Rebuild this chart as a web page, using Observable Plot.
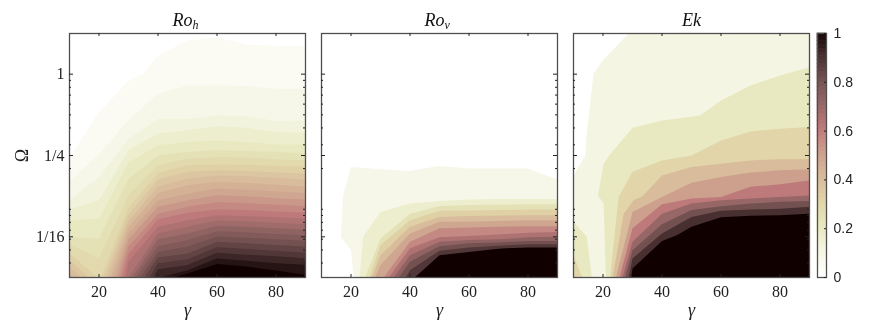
<!DOCTYPE html>
<html><head><meta charset="utf-8">
<script src="https://cdn.jsdelivr.net/npm/d3@7"></script>
<script src="https://cdn.jsdelivr.net/npm/@observablehq/plot@0.6"></script>
<style>
html,body{margin:0;padding:0;background:#fff}
#wrap{position:relative;width:872px;height:327px;overflow:hidden}
#wrap svg{position:absolute;top:0;overflow:visible;background:transparent;filter:blur(0.3px)}
</style></head><body><div id="wrap"></div>
<script>
const panels = ["Ro_h", "Ro_v", "Ek"];
const titleMain = ["Ro", "Ro", "Ek"];
const titleSub = ["h", "v", ""];

const gammaTicks = [20, 40, 60, 80];
const omegaMajor = [1, 0.25, 0.0625];
const omegaMajorLabels = ["1", "1/4", "1/16"];
const omegaMinor = [0.9, 0.8, 0.7, 0.6, 0.5, 0.4, 0.3, 0.2, 0.1, 0.09, 0.08, 0.07, 0.06, 0.05, 0.04];
const barTicks = [0, 0.2, 0.4, 0.6, 0.8, 1];

const colorStops = [0, 0.1, 0.2, 0.3, 0.4, 0.5, 0.6, 0.7, 0.8, 0.9, 1];
const colorValues = ["#ffffff", "#f5f5e3", "#e8e9c0", "#e1d5a9", "#d8bc9b", "#cda08d", "#be7a7a", "#976767", "#745151", "#483030", "#100000"];

// each contour: [gamma, log2(Omega)] points; the region below it takes the level's colour
const rohLevels = [0.04, 0.08, 0.12, 0.16, 0.2, 0.24, 0.28, 0.32, 0.36, 0.4, 0.44, 0.48, 0.52, 0.56, 0.6, 0.64, 0.68, 0.72, 0.76, 0.8, 0.84, 0.88, 0.92, 0.96, 1];
const rohContours = [
  [[10,-2.04],[20,-.93],[30,-.16],[35,.01],[40,.46],[50,.83],[60,.91],[70,.73],[80,.70],[90,.69]],
  [[10,-2.63],[20,-1.97],[30,-1.12],[40,-.48],[50,-.28],[60,-.28],[70,-.29],[80,-.36],[90,-.36]],
  [[10,-3.10],[20,-2.53],[30,-1.59],[40,-1.10],[50,-1.10],[60,-1.01],[70,-1.03],[80,-1.15],[90,-1.14]],
  [[10,-3.33],[20,-3.10],[30,-1.87],[40,-1.46],[50,-1.38],[60,-1.28],[70,-1.32],[80,-1.42],[90,-1.45]],
  [[10,-3.59],[20,-3.55],[30,-2.17],[40,-1.75],[50,-1.67],[60,-1.63],[70,-1.67],[80,-1.73],[90,-1.73]],
  [[10,-4.01],[20,-4.04],[30,-2.57],[40,-2.0],[50,-1.91],[60,-1.87],[70,-1.89],[80,-1.91],[90,-1.95]],
  [[10,-4.18],[20,-4.53],[30,-2.98],[40,-2.24],[50,-2.08],[60,-2.04],[70,-2.05],[80,-2.09],[90,-2.12]],
  [[20.6,-5],[30,-3.28],[40,-2.43],[50,-2.24],[60,-2.22],[70,-2.23],[80,-2.26],[90,-2.28]],
  [[21.7,-5],[30,-3.46],[40,-2.59],[50,-2.40],[60,-2.36],[70,-2.38],[80,-2.42],[90,-2.44]],
  [[22.8,-5],[30,-3.61],[40,-2.76],[50,-2.57],[60,-2.49],[70,-2.51],[80,-2.55],[90,-2.59]],
  [[24,-5],[30,-3.75],[40,-2.92],[50,-2.73],[60,-2.65],[70,-2.67],[80,-2.72],[90,-2.76]],
  [[25.1,-5],[30,-3.92],[40,-3.10],[50,-2.94],[60,-2.81],[70,-2.84],[80,-2.88],[90,-2.92]],
  [[26.2,-5],[30,-4.06],[40,-3.26],[50,-3.10],[60,-2.98],[70,-3.00],[80,-3.05],[90,-3.08]],
  [[27.1,-5],[30,-4.24],[40,-3.43],[50,-3.26],[60,-3.15],[70,-3.17],[80,-3.21],[90,-3.24]],
  [[28,-5],[30,-4.42],[40,-3.57],[50,-3.41],[60,-3.33],[70,-3.34],[80,-3.38],[90,-3.40]],
  [[29.1,-5],[30,-4.61],[40,-3.75],[50,-3.59],[60,-3.47],[70,-3.49],[80,-3.52],[90,-3.55]],
  [[30,-5],[40,-3.92],[50,-3.75],[60,-3.60],[70,-3.62],[80,-3.66],[90,-3.69]],
  [[31.3,-5],[40,-4.06],[50,-3.92],[60,-3.73],[70,-3.75],[80,-3.79],[90,-3.82]],
  [[32.5,-5],[40,-4.23],[50,-4.08],[60,-3.86],[70,-3.89],[80,-3.93],[90,-3.96]],
  [[34,-5],[40,-4.37],[50,-4.24],[60,-3.99],[70,-4.02],[80,-4.06],[90,-4.10]],
  [[35.3,-5],[40,-4.51],[50,-4.41],[60,-4.12],[70,-4.16],[80,-4.20],[90,-4.24]],
  [[37,-5],[40,-4.65],[50,-4.55],[60,-4.25],[70,-4.30],[80,-4.34],[90,-4.39]],
  [[38.5,-5],[40,-4.80],[50,-4.69],[60,-4.39],[70,-4.44],[80,-4.48],[90,-4.53]],
  [[40.5,-5],[50,-4.82],[60,-4.53],[70,-4.59],[80,-4.65],[90,-4.69]],
  [[45,-5],[50,-4.90],[60,-4.67],[70,-4.73],[80,-4.83],[90,-4.94]]
];
const rohPocketLevels = [0.32, 0.36, 0.4, 0.44];
const rohPockets = [
  [[10,-4.41],[19.4,-5]],
  [[10,-4.57],[16.6,-5]],
  [[10,-4.73],[13.7,-5]],
  [[10,-4.90],[11.5,-5]]
];

const rovLevels = [0.08, 0.16, 0.24, 0.32, 0.4, 0.48, 0.56, 0.64, 0.72, 0.8, 0.88, 1];
const rovContours = [
  [[20.9,-5],[20,-4.33],[16.6,-4.01],[17.3,-2.99],[20,-2.28],[30,-2.34],[40,-2.38],[44.7,-2.32],[50,-2.26],[60,-2.32],[70,-2.32],[80,-2.32],[90,-2.59]],
  [[22.9,-5],[24.1,-4.0],[30,-3.39],[40,-3.18],[50,-3.12],[60,-3.08],[70,-3.07],[80,-3.07],[90,-3.07]],
  [[24.8,-5],[30,-4.04],[40,-3.43],[50,-3.24],[60,-3.22],[70,-3.21],[80,-3.2],[90,-3.2]],
  [[26.3,-5],[30,-4.2],[40,-3.59],[50,-3.36],[60,-3.35],[70,-3.34],[80,-3.33],[90,-3.33]],
  [[27.1,-5],[30,-4.45],[40,-3.75],[50,-3.51],[60,-3.49],[70,-3.48],[80,-3.47],[90,-3.47]],
  [[28.2,-5],[30,-4.69],[40,-3.92],[50,-3.63],[60,-3.62],[70,-3.61],[80,-3.59],[90,-3.59]],
  [[31.1,-5],[40,-4.12],[50,-3.79],[60,-3.77],[70,-3.75],[80,-3.74],[90,-3.74]],
  [[32.8,-5],[40,-4.28],[50,-4.01],[60,-3.98],[70,-3.94],[80,-3.9],[90,-3.88]],
  [[34.5,-5],[40,-4.45],[50,-4.12],[60,-4.08],[70,-4.06],[80,-4.01],[90,-4.0]],
  [[36.2,-5],[40,-4.61],[50,-4.23],[60,-4.16],[70,-4.14],[80,-4.1],[90,-4.1]],
  [[38.5,-5],[40,-4.82],[50,-4.34],[60,-4.26],[70,-4.22],[80,-4.18],[90,-4.18]],
  [[41.6,-5],[50,-4.45],[60,-4.37],[70,-4.29],[80,-4.26],[90,-4.26]]
];

const ekLevels = [0.1, 0.2, 0.3, 0.4, 0.5, 0.6, 0.7, 0.8, 0.9, 1];
const ekContours = [
  [[10,-2.49],[14,-2],[14.5,-1.46],[16.8,.01],[20,.34],[28.7,1],[90,1]],
  [[21,-5],[20.2,-3.18],[18.3,-2.99],[20.2,-2.2],[22.1,-2],[30,-1.32],[40,-1.14],[50,-1.05],[53,-1.01],[60,-.65],[70,-.28],[80,-.03],[90,.17]],
  [[22.4,-5],[25.3,-3.02],[30,-2.4],[40,-2.12],[50,-2],[60,-1.63],[70,-1.41],[80,-1.34],[90,-1.3]],
  [[23.3,-5],[27,-3.43],[30.4,-3.1],[33.4,-3],[40,-2.49],[50,-2.28],[60,-2.2],[70,-2.12],[80,-2.09],[90,-2.09]],
  [[24.4,-5],[30,-3.39],[40,-3.02],[50,-2.67],[60,-2.53],[70,-2.42],[80,-2.36],[90,-2.34]],
  [[25.6,-5],[30,-3.79],[40,-3.2],[50,-3.06],[60,-3.02],[70,-2.77],[80,-2.71],[90,-2.61]],
  [[26.6,-5],[30,-4.12],[40,-3.43],[50,-3.18],[60,-3.1],[70,-3.06],[80,-3.02],[90,-2.98]],
  [[27.5,-5],[30,-4.33],[40,-3.69],[50,-3.34],[60,-3.25],[70,-3.18],[80,-3.14],[90,-3.12]],
  [[28.7,-5],[30,-4.53],[40,-3.92],[50,-3.51],[60,-3.36],[70,-3.33],[80,-3.31],[90,-3.26]],
  [[29.6,-5],[30,-4.78],[40,-4.1],[45,-3.96],[50,-3.75],[60,-3.52],[70,-3.48],[80,-3.47],[90,-3.43]]
];
const ekPocketLevels = [0.2, 0.3];
const ekPockets = [
  [[10,-3.63],[14.5,-4],[16.2,-5]],
  [[10,-4.45],[13,-5]]
];

const rows = [];
let polygon = 0;
function addContours(panel, levels, contours) {
  contours.forEach((pts, i) => {
    polygon++;
    const closed = [...pts, [pts[pts.length - 1][0], -5], [pts[0][0], -5]];
    for (const [gamma, e] of closed) rows.push({panel, level: levels[i], gamma, omega: 2 ** e, polygon});
  });
}
addContours("Ro_h", rohLevels, rohContours);
addContours("Ro_h", rohPocketLevels, rohPockets);
addContours("Ro_v", rovLevels, rovContours);
addContours("Ek", ekLevels, ekContours);
addContours("Ek", ekPocketLevels, ekPockets);

const titles = panels.map((p, i) => ({panel: p, main: titleMain[i], sub: titleSub[i]}));
const color = {type: "linear", domain: colorStops, range: colorValues};
const axisColor = "#4f4f4f";
const ident = d => d;
const w = 236, h = 244;

const main = Plot.plot({
  width: 872, height: 327,
  marginLeft: 69, marginRight: 63, marginTop: 33, marginBottom: 50,
  style: {fontFamily: "'Liberation Serif', serif", fontSize: "16px", background: "transparent"},
  fx: {domain: panels, axis: null, paddingInner: 16 / 252, paddingOuter: 0, round: false},
  x: {domain: [10, 90], axis: null},
  y: {type: "log", base: 2, domain: [1 / 32, 2], axis: null},
  color,
  marks: [
    Plot.line(rows, {fx: "panel", x: "gamma", y: "omega", z: "polygon", fill: "level", stroke: "none", clip: true}),
    Plot.frame({stroke: axisColor, strokeWidth: 1.3}),
    Plot.ruleY(omegaMajor, {y: ident, insetRight: w - 4, stroke: "#222"}),
    Plot.ruleY(omegaMajor, {y: ident, insetLeft: w - 4, stroke: "#222"}),
    Plot.ruleY(omegaMinor, {y: ident, insetRight: w - 2, stroke: "#222"}),
    Plot.ruleY(omegaMinor, {y: ident, insetLeft: w - 2, stroke: "#222"}),
    Plot.ruleX(gammaTicks, {x: ident, insetTop: h - 3, stroke: "#222"}),
    Plot.ruleX(gammaTicks, {x: ident, insetBottom: h - 3, stroke: "#222"}),
    Plot.axisX(gammaTicks, {tickSize: 0, tickPadding: 8, label: null, fill: "#222"}),
    Plot.axisY(omegaMajor, {tickSize: 0, tickPadding: 5, label: null, fill: "#222",
      tickFormat: d => omegaMajorLabels[omegaMajor.indexOf(d)]}),
    Plot.text(titles.filter(d => d.sub), {fx: "panel", text: "main", frameAnchor: "top", textAnchor: "end", lineAnchor: "bottom", dx: 5, dy: -8, fontStyle: "italic", fontSize: 18, fill: "#111"}),
    Plot.text(titles.filter(d => d.sub), {fx: "panel", text: "sub", frameAnchor: "top", textAnchor: "start", lineAnchor: "bottom", dx: 5, dy: -5, fontStyle: "italic", fontSize: 12, fill: "#111"}),
    Plot.text(titles.filter(d => !d.sub), {fx: "panel", text: "main", frameAnchor: "top", textAnchor: "middle", lineAnchor: "bottom", dy: -8, fontStyle: "italic", fontSize: 18, fill: "#111"}),
    Plot.text(titles, {fx: "panel", text: () => "γ", frameAnchor: "bottom", lineAnchor: "bottom", dy: 38, fontStyle: "italic", fontSize: 18, fill: "#222"}),
    Plot.text(titles.slice(0, 1), {fx: "panel", text: () => "Ω", frameAnchor: "left", textAnchor: "middle", dx: -47, rotate: -90, fontSize: 18, fill: "#222"})
  ]
});
main.style.left = "0";
document.getElementById("wrap").append(main);

const barSteps = d3.range(0, 64).map(i => i / 64);
const bar = Plot.plot({
  width: 56, height: 327,
  marginLeft: 1, marginRight: 46, marginTop: 33, marginBottom: 50,
  style: {fontFamily: "'Liberation Sans', sans-serif", fontSize: "14px", background: "transparent"},
  x: {domain: [0, 1], axis: null},
  y: {domain: [0, 1], axis: null},
  color,
  marks: [
    Plot.rect(barSteps, {x1: 0, x2: 1, y1: ident, y2: d => d + 1 / 64, fill: ident, stroke: ident, strokeWidth: 0.6}),
    Plot.frame({stroke: axisColor, strokeWidth: 1.3}),
    Plot.ruleY(barTicks, {y: ident, insetLeft: 7, stroke: "#222"}),
    Plot.axisY(barTicks, {anchor: "right", tickSize: 0, tickPadding: 7, label: null, fill: "#222", tickFormat: ident})
  ]
});
bar.style.left = "816px";
document.getElementById("wrap").append(bar);
</script></body></html>
